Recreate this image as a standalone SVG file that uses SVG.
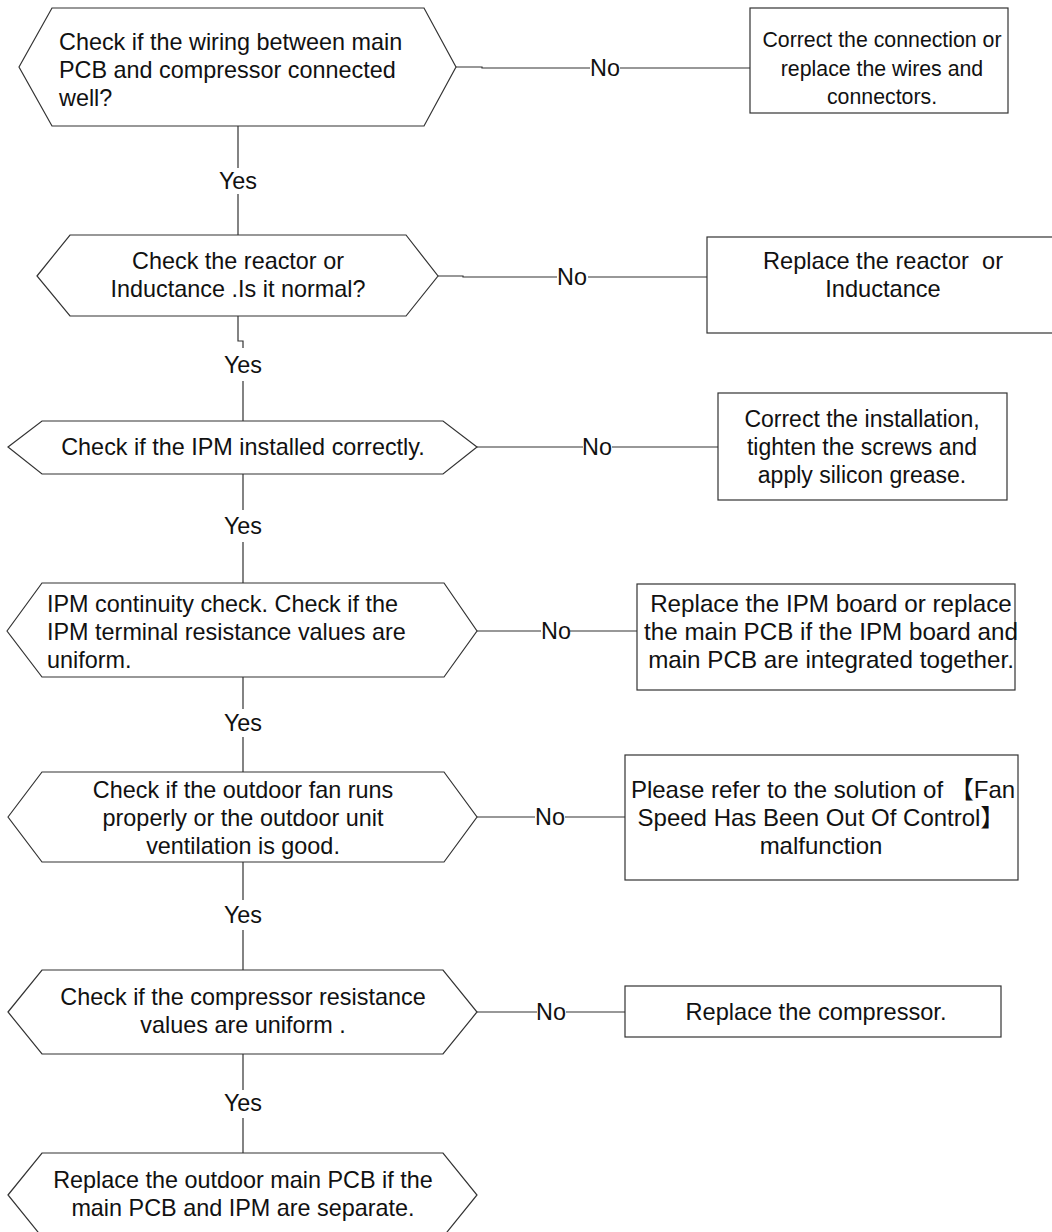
<svg xmlns="http://www.w3.org/2000/svg" width="1052" height="1232" viewBox="0 0 1052 1232">
<style>
.s{fill:#fff;stroke:#333;stroke-width:1.2}
.c{fill:none;stroke:#333;stroke-width:1.2}
text{font-family:"Liberation Sans",Arial,"Noto Sans CJK SC",sans-serif;font-size:23.4px;fill:#111}
.m{text-anchor:middle}
</style>
<rect width="1052" height="1232" fill="#fff"/>
<g id="connectors">
<path class="c" d="M456,67H482V68H590M620,68H750"/>
<path class="c" d="M238,126V168M238,194V235"/>
<path class="c" d="M438,276H463V277H557M588,277H707"/>
<path class="c" d="M238,316V341H243V348M243,381V421"/>
<path class="c" d="M477,447H583M612,447H718"/>
<path class="c" d="M243,474V510M243,542V583"/>
<path class="c" d="M477,631H541M570,631H637"/>
<path class="c" d="M243,677V709M243,737V772"/>
<path class="c" d="M477,817H535M565,817H625"/>
<path class="c" d="M243,862V900M243,930V970"/>
<path class="c" d="M477,1012H537M566,1012H625"/>
<path class="c" d="M243,1054V1090M243,1118V1153"/>
<text class="m" x="605" y="76">No</text>
<text class="m" x="238" y="189">Yes</text>
<text class="m" x="572" y="285">No</text>
<text class="m" x="243" y="373">Yes</text>
<text class="m" x="597" y="455">No</text>
<text class="m" x="243" y="534">Yes</text>
<text class="m" x="556" y="639">No</text>
<text class="m" x="243" y="731">Yes</text>
<text class="m" x="550" y="825">No</text>
<text class="m" x="243" y="923">Yes</text>
<text class="m" x="551" y="1020">No</text>
<text class="m" x="243" y="1111">Yes</text>
</g>
<g id="d1">
<polygon class="s" points="19,67 52,8 424,8 456,67 424,126 52,126"/>
<text x="59" y="50">Check if the wiring between main</text>
<text x="59" y="78">PCB and compressor connected</text>
<text x="59" y="106">well?</text>
</g>
<g id="r1">
<rect class="s" x="750" y="8" width="258" height="105"/>
<text class="m" x="882" y="47" style="font-size:21.3px">Correct the connection or</text>
<text class="m" x="882" y="76" style="font-size:21.3px">replace the wires and</text>
<text class="m" x="882" y="104" style="font-size:21.3px">connectors.</text>
</g>
<g id="d2">
<polygon class="s" points="37,276 70,235 406,235 438,276 406,316 70,316"/>
<text class="m" x="238" y="269">Check the reactor or</text>
<text class="m" x="238" y="297">Inductance .Is it normal?</text>
</g>
<g id="r2">
<rect class="s" x="707" y="237" width="360" height="96"/>
<text class="m" x="883" y="269" xml:space="preserve" style="font-size:23.6px">Replace the reactor  or</text>
<text class="m" x="883" y="297" style="font-size:23.6px">Inductance</text>
</g>
<g id="d3">
<polygon class="s" points="8,447 42,421 443,421 477,447 443,474 42,474"/>
<text class="m" x="243" y="455">Check if the IPM installed correctly.</text>
</g>
<g id="r3">
<rect class="s" x="718" y="393" width="289" height="107"/>
<text class="m" x="862" y="427" style="font-size:23px">Correct the installation,</text>
<text class="m" x="862" y="455" style="font-size:23px">tighten the screws and</text>
<text class="m" x="862" y="483" style="font-size:23px">apply silicon grease.</text>
</g>
<g id="d4">
<polygon class="s" points="7,631 42,583 444,583 477,631 444,677 42,677"/>
<text x="47" y="612">IPM continuity check. Check if the</text>
<text x="47" y="640">IPM terminal resistance values are</text>
<text x="47" y="668">uniform.</text>
</g>
<g id="r4">
<rect class="s" x="637" y="584" width="378" height="106"/>
<text class="m" x="831" y="612" style="font-size:24.2px">Replace the IPM board or replace</text>
<text class="m" x="831" y="640" style="font-size:24.2px">the main PCB if the IPM board and</text>
<text class="m" x="831" y="668" style="font-size:24.2px">main PCB are integrated together.</text>
</g>
<g id="d5">
<polygon class="s" points="8,817 42,772 444,772 477,817 444,862 42,862"/>
<text class="m" x="243" y="798">Check if the outdoor fan runs</text>
<text class="m" x="243" y="826">properly or the outdoor unit</text>
<text class="m" x="243" y="854">ventilation is good.</text>
</g>
<g id="r5">
<rect class="s" x="625" y="755" width="393" height="125"/>
<text class="m" x="823" y="798" style="font-size:24px">Please refer to the solution of 【Fan</text>
<text class="m" x="821" y="826" style="font-size:24px">Speed Has Been Out Of Control】</text>
<text class="m" x="821" y="854" style="font-size:24px">malfunction</text>
</g>
<g id="d6">
<polygon class="s" points="8,1012 42,970 443,970 477,1012 443,1054 42,1054"/>
<text class="m" x="243" y="1005">Check if the compressor resistance</text>
<text class="m" x="243" y="1033">values are uniform .</text>
</g>
<g id="r6">
<rect class="s" x="625" y="986" width="376" height="51"/>
<text class="m" x="816" y="1020" style="font-size:23.6px">Replace the compressor.</text>
</g>
<g id="d7">
<polygon class="s" points="8,1195 42,1153 443,1153 477,1195 443,1237 42,1237"/>
<text class="m" x="243" y="1188">Replace the outdoor main PCB if the</text>
<text class="m" x="243" y="1216">main PCB and IPM are separate.</text>
</g>
</svg>
